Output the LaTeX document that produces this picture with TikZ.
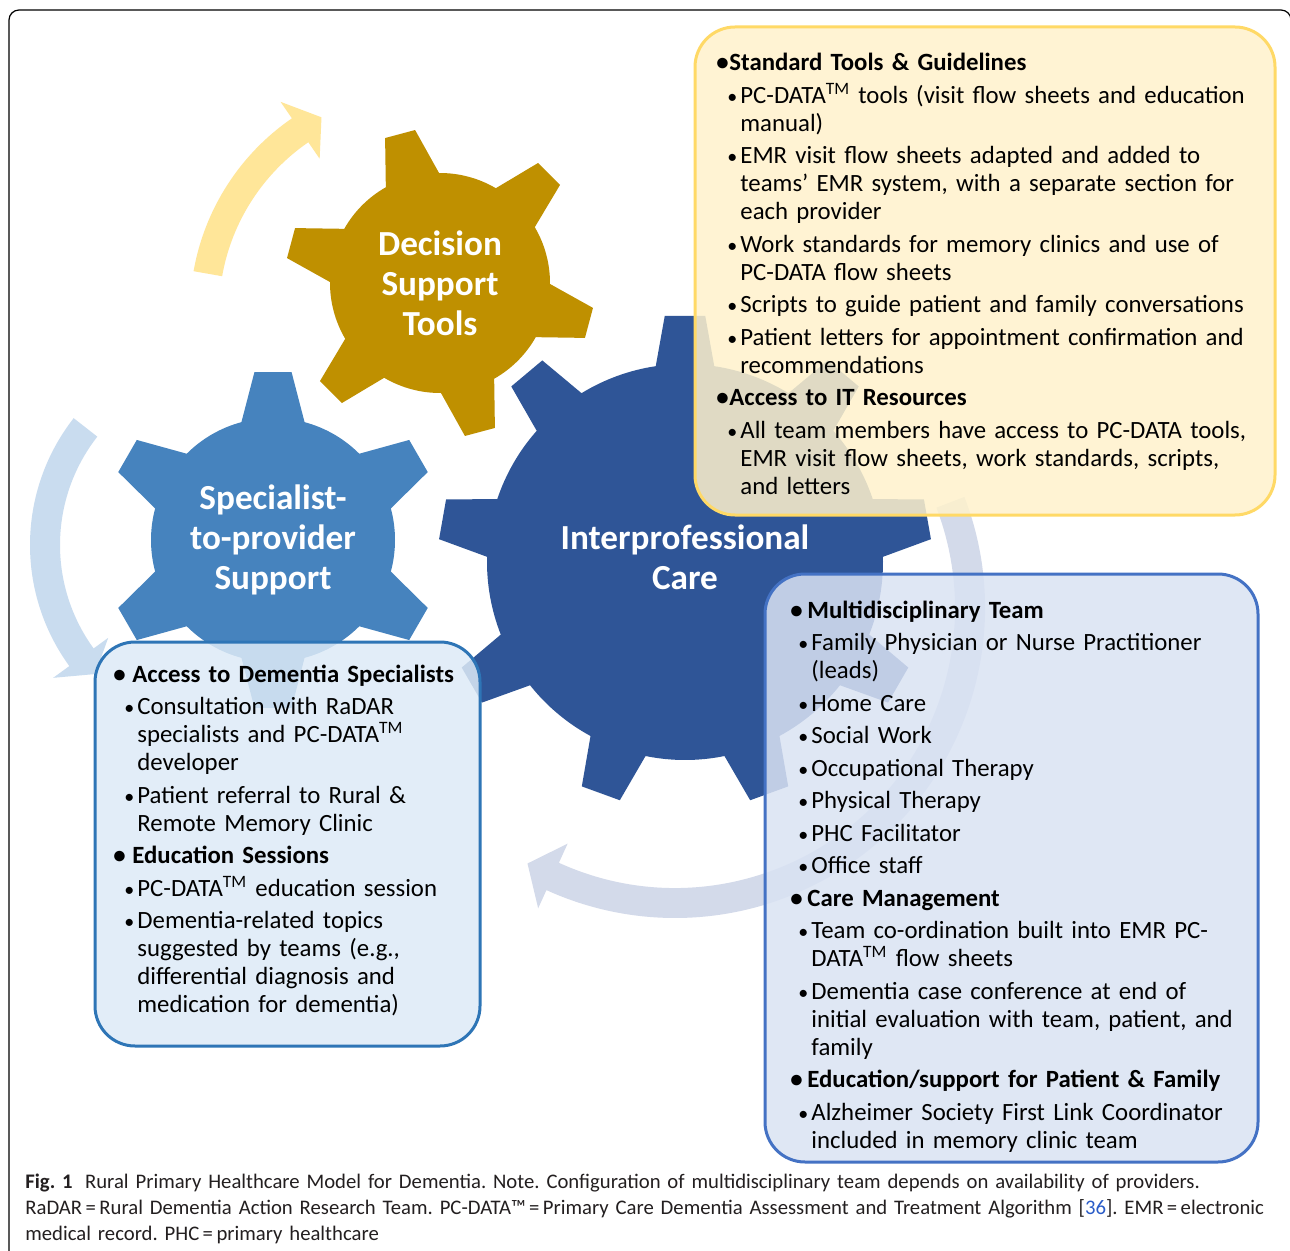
\documentclass[tikz,border=0pt]{standalone}
\usepackage{fontspec}
\setmainfont{Carlito}
\frenchspacing

\definecolor{gearGold}{HTML}{BF9000}
\definecolor{gearMid}{HTML}{4683BE}
\definecolor{gearDark}{HTML}{2F5597}
\definecolor{arrowGold}{HTML}{FFE699}
\definecolor{arrowSky}{HTML}{C9DCEF}
\definecolor{arrowGrey}{HTML}{D3DAEA}
\definecolor{noteGold}{HTML}{FFF2CC}
\definecolor{noteGoldLine}{HTML}{FFD966}
\definecolor{noteSky}{HTML}{DEEBF7}
\definecolor{noteSkyLine}{HTML}{2E75B6}
\definecolor{noteBlue}{HTML}{DAE3F3}
\definecolor{noteBlueLine}{HTML}{4472C4}
\definecolor{capInk}{HTML}{231F20}
\definecolor{citeBlue}{HTML}{2A5CC8}

\newlength\topicgap
\newlength\pointgap
\newif\iffirstline
\newcommand{\boxsetup}[2]{\setlength\topicgap{#1}\setlength\pointgap{#2}%
  \setlength\parskip{2.25pt}\firstlinetrue}
\newcommand{\topic}[1]{\iffirstline\firstlinefalse\else\par\fi
  \noindent\makebox[\topicgap][l]{\textbf{\textbullet}}\textbf{#1}}
\newcommand{\point}[1]{\par\hangindent=\pointgap\hangafter=1\noindent%
  \makebox[\pointgap][r]{{\fontsize{10}{10}\selectfont\textbullet}\hspace{1.5pt}}#1}

% gear: centre, inner radius, outer radius, teeth, first tooth angle, half base, half tip, colour
\newcommand{\gear}[8]{
  \begin{scope}[shift={(#1)}]
    \pgfmathsetmacro\gstep{360/#4}
    \fill[#8] ({#5-#6}:#2)
      \foreach \k in {1,...,#4}{
        -- ({#5+(\k-1)*\gstep-#7}:#3) -- ({#5+(\k-1)*\gstep+#7}:#3)
        -- ({#5+(\k-1)*\gstep+#6}:#2)
        arc[start angle={#5+(\k-1)*\gstep+#6}, end angle={#5+\k*\gstep-#6}, radius=#2]
      } -- cycle;
  \end{scope}
}

% curved arrow: centre, inner r, outer r, from, to, head inner r, head outer r, tip angle, colour
\newcommand{\curlarrow}[9]{
  \begin{scope}[shift={(#1)}]
    \fill[#9] (#4:#3) arc[start angle=#4, end angle=#5, radius=#3]
      -- (#5:#7) -- (#8:{(#2+#3)/2}) -- (#5:#6)
      -- (#5:#2) arc[start angle=#5, end angle=#4, radius=#2] -- cycle;
  \end{scope}
}

\tikzset{
  gear label/.style={text=white, align=center, inner sep=0pt,
    font=\fontsize{17.6}{20}\selectfont\bfseries},
  note/.style={line width=1.5pt, rounded corners=20pt, fill opacity=0.85},
  tools note/.style={note, fill=noteGold, draw=noteGoldLine},
  expert note/.style={note, fill=noteSky, draw=noteSkyLine},
  team note/.style={note, fill=noteBlue, draw=noteBlueLine},
  box text/.style={anchor=base west, inner sep=0pt, align=left, text width=#1,
    font=\fontsize{12.4}{14}\selectfont},
  caption text/.style={anchor=base west, inner sep=0pt, align=left, text width=640pt,
    text=capInk, font=\fontsize{10.35}{13}\selectfont}
}

\begin{document}
\begin{tikzpicture}[x=0.5pt, y=-0.5pt]
  \useasboundingbox (0,0) rectangle (1290,1251);
  \clip (0,0) rectangle (1290,1251);
  \fill[white] (0,0) rectangle (1290,1251);
  \draw[line width=0.6pt, rounded corners=5pt] (9,1300) -- (9,10) -- (1291,10) -- (1291,1300);

  % turning arrows
  \curlarrow{425,312}{206}{235}{190}{235.5}{186}{255}{242}{arrowGold}
  \curlarrow{236,545}{176}{206}{218}{144}{158}{226}{137.5}{arrowSky}
  \curlarrow{675,608}{280}{310}{-21}{114.5}{259}{330}{120}{arrowGrey}

  % gears
  \gear{685,562}{198}{247}{9}{270}{8.5}{4.7}{gearDark}
  \gear{440,283}{110}{155}{6}{255}{14.5}{5.75}{gearGold}
  \gear{273,540}{122}{169}{6}{270}{15}{6.3}{gearMid}

  \node[gear label] (decision) at (440,283) {Decision\\Support\\Tools};
  \node[gear label] (specialist) at (273,540) {Specialist-\\to-provider\\Support};
  \node[gear label] (interpro) at (685,557) {Interprofessional\\Care};

  % notes
  \filldraw[tools note] (695,27) rectangle (1275,515);
  \filldraw[expert note] (95,642) rectangle (480,1046);
  \filldraw[team note] (765,574) rectangle (1258,1162);

  \node[box text=300pt] (tools) at (716,71) {\boxsetup{6.5pt}{12pt}%
    \topic{Standard Tools \& Guidelines}
    \point{PC-DATA\textsuperscript{TM} tools (visit flow sheets and education\newline manual)}
    \point{EMR visit flow sheets adapted and added to\newline teams’ EMR system, with a separate section for\newline each provider}
    \point{Work standards for memory clinics and use of\newline PC-DATA flow sheets}
    \point{Scripts to guide patient and family conversations}
    \point{Patient letters for appointment confirmation and\newline recommendations}
    \topic{Access to IT Resources}
    \point{All team members have access to PC-DATA tools,\newline EMR visit flow sheets, work standards, scripts,\newline and letters}\par};

  \node[box text=200pt] (experts) at (113,682) {\boxsetup{9.5pt}{12pt}%
    \topic{Access to Dementia Specialists}
    \point{Consultation with RaDAR\newline specialists and PC-DATA\textsuperscript{TM}\newline developer}
    \point{Patient referral to Rural \&\newline Remote Memory Clinic}
    \topic{Education Sessions}
    \point{PC-DATA\textsuperscript{TM} education session}
    \point{Dementia-related topics\newline suggested by teams (e.g.,\newline differential diagnosis and\newline medication for dementia)}\par};

  \node[box text=250pt] (team) at (790,618) {\boxsetup{8.5pt}{10.5pt}%
    \topic{Multidisciplinary Team}
    \point{Family Physician or Nurse Practitioner\newline (leads)}
    \point{Home Care}
    \point{Social Work}
    \point{Occupational Therapy}
    \point{Physical Therapy}
    \point{PHC Facilitator}
    \point{Office staff}
    \topic{Care Management}
    \point{Team co-ordination built into EMR PC-\newline DATA\textsuperscript{TM} flow sheets}
    \point{Dementia case conference at end of\newline initial evaluation with team, patient, and\newline family}
    \topic{Education/support for Patient \& Family}
    \point{Alzheimer Society First Link Coordinator\newline included in memory clinic team}\par};

  \node[caption text] (caption) at (25,1188) {\textbf{Fig. 1}\hspace{0.6em}Rural Primary Healthcare Model for Dementia. Note. Configuration of multidisciplinary team depends on availability of providers.\\
    RaDAR\,=\,Rural Dementia Action Research Team. PC-DATA™\,=\,Primary Care Dementia Assessment and Treatment Algorithm [\textcolor{citeBlue}{36}]. EMR\,=\,electronic\\
    medical record. PHC\,=\,primary healthcare};
\end{tikzpicture}
\end{document}
